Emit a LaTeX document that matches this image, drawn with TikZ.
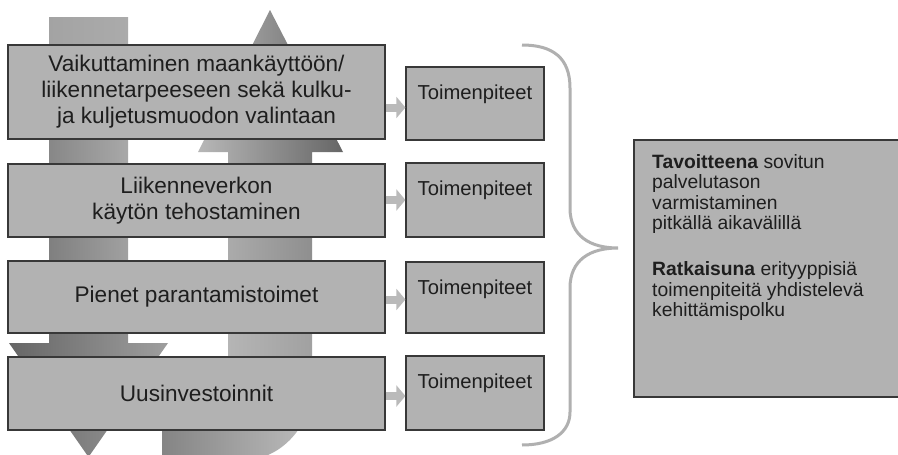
\documentclass[tikz,border=0pt]{standalone}
\usepackage{fontspec}
\setmainfont{Liberation Sans}
\usetikzlibrary{arrows.meta}
\definecolor{boxfill}{HTML}{B2B2B2}
\definecolor{boxline}{HTML}{383838}
\definecolor{bracecol}{HTML}{B0B0B0}
\definecolor{txt}{HTML}{1E1E1E}
\begin{document}
\begin{tikzpicture}[x=1pt,y=-1pt,
  mainbox/.style={draw=boxline, line width=1.2pt, fill=boxfill, minimum width=377pt,
    inner sep=0pt, align=center, text=txt, font=\fontsize{22.6}{26}\selectfont},
  smallbox/.style={draw=boxline, line width=1.2pt, fill=boxfill, minimum width=138pt, inner sep=0pt},
  smalltext/.style={text=txt, font=\fontsize{20.2}{24}\selectfont, inner sep=0pt, anchor=base},
  link/.style={draw=black!27, line width=8pt, -{Triangle[width=21pt,length=9pt]}},
  bracestyle/.style={draw=bracecol, line width=3pt}
]
\useasboundingbox (0,0) rectangle (898,455);
\fill[white] (0,0) rectangle (898,455);

% down arrow (left), in pieces whose seams hide behind the boxes
\shade[left color=black!36, right color=black!33] (49,17) -- (128,17) -- (128,100) -- (49,100) -- cycle;
\shade[left color=black!47, right color=black!34] (49,99.5) -- (128,99.5) -- (128,200) -- (49,200) -- cycle;
\shade[left color=black!50, right color=black!37] (49,199.5) -- (128,199.5) -- (128,300) -- (49,300) -- cycle;
\shade[left color=black!60, right color=black!38] (49,299.5) -- (128,299.5) -- (128,343) -- (168,343)
  -- (88.5,457) -- (9,343) -- (49,343) -- cycle;

% up arrow (right), in pieces
\shade[left color=black!28, right color=black!60] (270,10) -- (343,152) -- (312,152) -- (312,200)
  -- (228,200) -- (228,152) -- (198,152) -- cycle;
\shade[left color=black!33, right color=black!44] (228,199.5) -- (312,199.5) -- (312,300) -- (228,300) -- cycle;
\shade[left color=black!29, right color=black!37] (228,299.5) -- (312,299.5) -- (312,396) -- (228,396) -- cycle;
\shade[left color=black!48, right color=black!26] (228,395.5) -- (312,395.5) -- (312,387)
  .. controls (312,424.5) and (281.6,460) .. (244,460) -- (162,460) -- (162,395.5) -- cycle;

% main boxes
\node[mainbox, minimum height=94pt] (b1) at (196.5,92) {Vaikuttaminen maankäyttöön/\\liikennetarpeeseen sekä kulku-\\ja kuljetusmuodon valintaan};
\node[mainbox, minimum height=73pt] (b2) at (196.5,200.5) {Liikenneverkon\\käytön tehostaminen};
\node[mainbox, minimum height=72pt] (b3) at (196.5,297) {Pienet parantamistoimet};
\node[mainbox, minimum height=73pt] (b4) at (196.5,393.5) {Uusinvestoinnit};

% small boxes
\node[smallbox, minimum height=73pt] (s1) at (475,103.5) {};
\node[smallbox, minimum height=74pt] (s2) at (475,200) {};
\node[smallbox, minimum height=71pt] (s3) at (475,297.5) {};
\node[smallbox, minimum height=74pt] (s4) at (475,393) {};
\node[smalltext] (t1) at ([yshift=-33pt]s1.north) {Toimenpiteet};
\node[smalltext] (t2) at ([yshift=-33pt]s2.north) {Toimenpiteet};
\node[smalltext] (t3) at ([yshift=-33pt]s3.north) {Toimenpiteet};
\node[smalltext] (t4) at ([yshift=-33pt]s4.north) {Toimenpiteet};

% connectors
\draw[link] ([yshift=-4pt]s1.west -| b1.east) -- ([yshift=-4pt]s1.west);
\draw[link] (s2.west -| b2.east) -- (s2.west);
\draw[link] ([yshift=-2pt]s3.west -| b3.east) -- ([yshift=-2pt]s3.west);
\draw[link] ([yshift=-3pt]s4.west -| b4.east) -- ([yshift=-3pt]s4.west);

% brace
\draw[bracestyle] (522,45) .. controls (553,45) and (570,58) .. (570,88) -- (570,208)
  .. controls (570,236) and (590,248) .. (618,248)
  .. controls (590,248) and (570,260) .. (570,288) -- (570,412)
  .. controls (570,432) and (553,445) .. (522,445);

% goal box
\node[draw=boxline, line width=1.2pt, fill=boxfill, minimum width=266pt, minimum height=257pt, inner sep=0pt] (goal) at (767,268.5) {};
\node[anchor=north west, align=left, inner sep=0pt, text=txt, font=\fontsize{19.3}{20.3}\selectfont] (goaltext) at (652,154.5)
  {\textbf{Tavoitteena} sovitun\\palvelutason\\varmistaminen\\pitkällä aikavälillä\\[26pt]\textbf{Ratkaisuna} erityyppisiä\\toimenpiteitä yhdistelevä\\kehittämispolku};
\end{tikzpicture}
\end{document}
